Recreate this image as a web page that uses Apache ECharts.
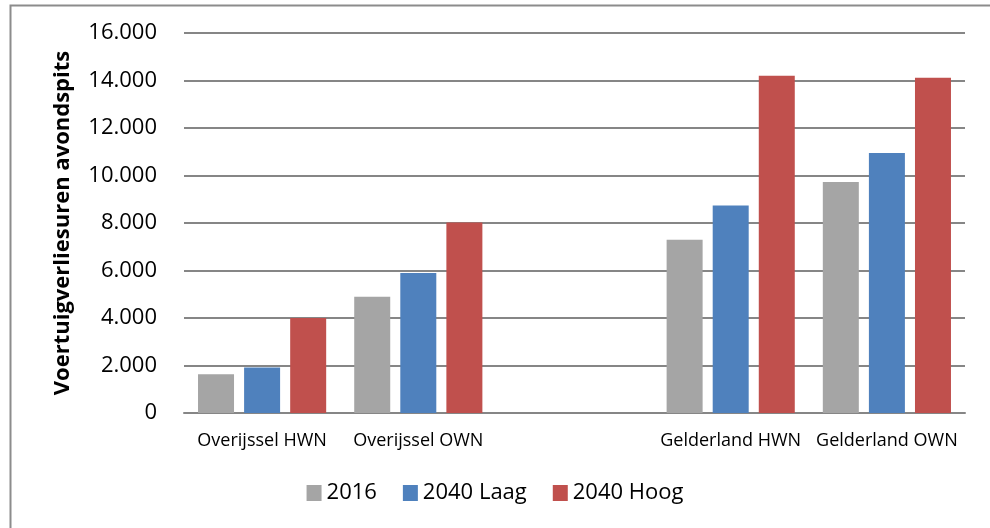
<!DOCTYPE html>
<html>
<head>
<meta charset="utf-8">
<script src="https://cdn.jsdelivr.net/npm/echarts@6/dist/echarts.min.js"></script>
<style>
  html, body { margin: 0; padding: 0; background: #fff; }
  #chart { width: 990px; height: 528px; }
</style>
</head>
<body>
<div id="chart"></div>
<script>
// categorieën (lege plek tussen Overijssel en Gelderland)
const categories = ['Overijssel HWN', 'Overijssel OWN', '', 'Gelderland HWN', 'Gelderland OWN']
const seriesNames = ['2016', '2040 Laag', '2040 Hoog']
const values2016 = [1630, 4900, null, 7290, 9730]
const values2040Laag = [1920, 5890, null, 8740, 10950]
const values2040Hoog = [4000, 8020, null, 14200, 14120]
const yTicks = [0, 2000, 4000, 6000, 8000, 10000, 12000, 14000, 16000]

const colors = ['#A5A5A5', '#4F81BD', '#C0504D']
const font = '"Open Sans", sans-serif'

// duizendtallen met punt
function fmt(v) {
  return String(v).replace(/\B(?=(\d{3})+(?!\d))/g, '.')
}

const chart = echarts.init(document.getElementById('chart'))

const option = {
  backgroundColor: '#fff',
  animation: false,
  textStyle: { fontFamily: font, color: '#000' },
  graphic: [{
    type: 'rect',
    shape: { x: 10.5, y: 5.5, width: 1000, height: 600 },
    style: { fill: 'none', stroke: '#8c8c8c', lineWidth: 2 },
    silent: true
  }],
  grid: { left: 184, right: 25, top: 33, bottom: 115 },
  legend: {
    bottom: 19,
    left: 'center',
    itemWidth: 15,
    itemHeight: 16,
    itemGap: 26,
    icon: 'rect',
    textStyle: { fontSize: 22, fontFamily: font, color: '#000' },
    data: seriesNames
  },
  xAxis: {
    type: 'category',
    data: categories,
    axisLine: { lineStyle: { color: '#868686', width: 2 } },
    axisTick: { show: false },
    axisLabel: { fontSize: 18, color: '#000', margin: 19, interval: 0, fontFamily: font }
  },
  yAxis: {
    type: 'value',
    min: yTicks[0],
    max: yTicks[yTicks.length - 1],
    interval: 2000,
    name: 'Voertuigverliesuren avondspits',
    nameLocation: 'middle',
    nameGap: 110,
    nameTextStyle: { fontSize: 22, fontWeight: 'bold', color: '#000', fontFamily: font },
    axisLine: { show: false },
    axisTick: { show: false },
    axisLabel: { fontSize: 22, color: '#000', margin: 27, formatter: fmt, fontFamily: font },
    splitLine: { lineStyle: { color: '#868686', width: 2 } }
  },
  series: [values2016, values2040Laag, values2040Hoog].map((d, i) => ({
    name: seriesNames[i],
    type: 'bar',
    data: d,
    barWidth: 36,
    barGap: '28%',
    itemStyle: { color: colors[i] }
  }))
}

chart.setOption(option)
</script>
</body>
</html>
